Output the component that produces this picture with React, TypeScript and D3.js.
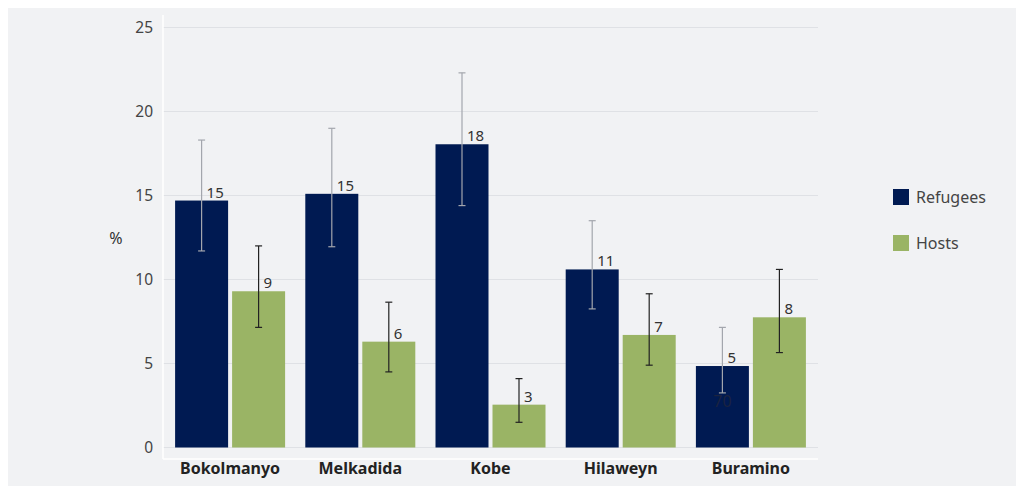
import React, { useEffect } from "react";
import * as d3 from "d3";

const categories = ["Bokolmanyo", "Melkadida", "Kobe", "Hilaweyn", "Buramino"];
const seriesNames = ["Refugees", "Hosts"];
const refugees = [14.7, 15.1, 18.05, 10.6, 4.85];
const refugeesLow = [11.7, 11.95, 14.4, 8.25, 3.25];
const refugeesHigh = [18.3, 19.0, 22.3, 13.5, 7.15];
const hosts = [9.3, 6.3, 2.55, 6.7, 7.75];
const hostsLow = [7.15, 4.5, 1.5, 4.9, 5.65];
const hostsHigh = [12.0, 8.65, 4.1, 9.15, 10.6];
const refugeeLabels = ["15", "15", "18", "11", "5"];
const hostLabels = ["9", "6", "3", "7", "8"];
const yTicks = [0, 5, 10, 15, 20, 25];

const W = 1016;
const H = 478;
const OX = 8; // page offset
const OY = 8;
const font = "'Noto Sans', 'Open Sans', sans-serif";
const NAVY = "#001a52";
const GREEN = "#9ab465";

export default function App() {
  useEffect(() => {
    document.documentElement.style.overflow = "hidden";
    document.body.style.overflow = "hidden";
  }, []);

  const y = d3.scaleLinear().domain([0, 25]).range([447.5 - OY, 27.5 - OY]);
  const x = d3.scaleBand<string>().domain(categories).range([165 - OX, 816 - OX]).paddingInner(0).paddingOuter(0);
  const barW = 53;
  const gap = 4;
  const plotLeft = 163 - OX;
  const plotRight = 818 - OX;
  const axisBottom = 459 - OY;

  const series = [
    { name: seriesNames[0], vals: refugees, lo: refugeesLow, hi: refugeesHigh, labels: refugeeLabels, color: NAVY, err: "#a3a6ad", off: -gap / 2 - barW },
    { name: seriesNames[1], vals: hosts, lo: hostsLow, hi: hostsHigh, labels: hostLabels, color: GREEN, err: "#222222", off: gap / 2 },
  ];

  return (
    <svg width={W} height={H} style={{ display: "block" }} fontFamily={font}>
      <rect x={0} y={0} width={W} height={H} fill="#f1f2f4" />
      {yTicks.map((t) => (
        <g key={t}>
          <line x1={plotLeft} x2={plotRight} y1={y(t)} y2={y(t)} stroke="#dfe1e5" strokeWidth={1} />
          <text x={153 - OX} y={y(t)} dy="0.35em" textAnchor="end" fontSize={15.5} fill="#444">{t}</text>
        </g>
      ))}
      <line x1={plotLeft} x2={plotLeft} y1={15 - OY} y2={axisBottom} stroke="#ffffff" strokeWidth={1.5} />
      <line x1={plotLeft} x2={plotRight} y1={axisBottom} y2={axisBottom} stroke="#ffffff" strokeWidth={1.5} />
      <text x={116 - OX} y={238 - OY} dy="0.35em" textAnchor="middle" fontSize={16} fill="#333">%</text>
      {categories.map((c, i) => {
        const cx = (x(c) as number) + x.bandwidth() / 2;
        return (
          <g key={c}>
            {series.map((s) => {
              const bx = cx + s.off;
              const mid = bx + barW / 2;
              return (
                <g key={s.name}>
                  <rect x={bx} y={y(s.vals[i])} width={barW} height={y(0) - y(s.vals[i])} fill={s.color} />
                  <line x1={mid} x2={mid} y1={y(s.hi[i])} y2={y(s.lo[i])} stroke={s.err} strokeWidth={1.2} />
                  <line x1={mid - 3.5} x2={mid + 3.5} y1={y(s.hi[i])} y2={y(s.hi[i])} stroke={s.err} strokeWidth={1.2} />
                  <line x1={mid - 3.5} x2={mid + 3.5} y1={y(s.lo[i])} y2={y(s.lo[i])} stroke={s.err} strokeWidth={1.2} />
                  <text x={mid + 5} y={y(s.vals[i]) - 3} fontSize={15} fill="#333">{s.labels[i]}</text>
                </g>
              );
            })}
            <text x={cx} y={474 - OY} textAnchor="middle" fontSize={16} fontWeight="bold" fill="#222">{c}</text>
          </g>
        );
      })}
      <text x={(x("Buramino") as number) + x.bandwidth() / 2 - gap / 2 - barW / 2} y={407 - OY} textAnchor="middle" fontSize={16} fill="#1b2340">70</text>
      {series.map((s, i) => (
        <g key={s.name}>
          <rect x={893 - OX} y={189 - OY + i * 46} width={16} height={16} fill={s.color} />
          <text x={916 - OX} y={197 - OY + i * 46} dy="0.35em" fontSize={16} fill="#444">{s.name}</text>
        </g>
      ))}
    </svg>
  );
}
